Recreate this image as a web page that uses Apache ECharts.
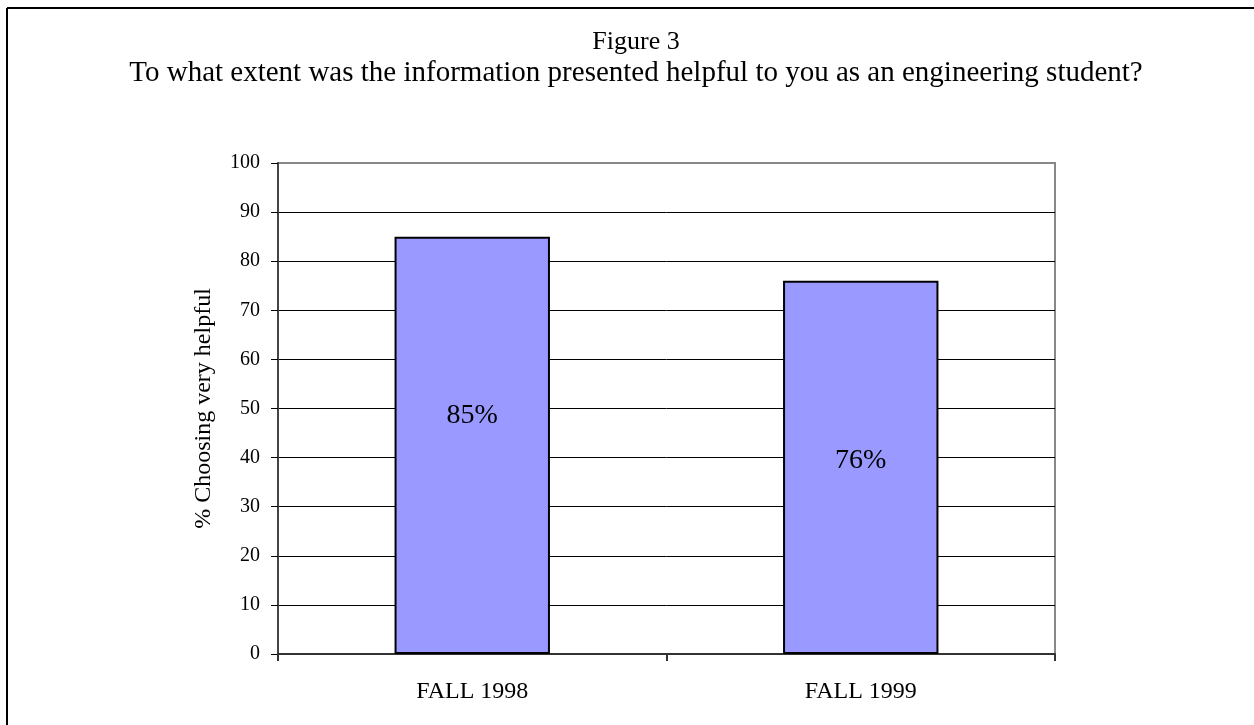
<!DOCTYPE html>
<html>
<head>
<meta charset="utf-8">
<script src="https://cdn.jsdelivr.net/npm/echarts@6/dist/echarts.min.js"></script>
<style>
html, body { margin: 0; padding: 0; background: #fff; }
#container { width: 1254px; height: 725px; }
</style>
</head>
<body>
<div id="container"></div>
<script>
var categories = ['FALL 1998', 'FALL 1999'];
var values = [85, 76];
var labelShift = [-30, -7];
var yTicks = { min: 0, max: 100, step: 10 };

var serif = '"Liberation Serif", "DejaVu Serif", serif';

var barData = [];
for (var i = 0; i < values.length; i++) {
    barData.push({
        value: values[i],
        label: { offset: [0, labelShift[i]] }
    });
}

var myChart = echarts.init(document.getElementById('container'));
var option = {
    backgroundColor: '#fff',
    animation: false,
    title: {
        text: 'Figure 3',
        subtext: 'To what extent was the information presented helpful to you as an engineering student?',
        left: 631,
        top: 24,
        textAlign: 'center',
        itemGap: 4,
        textStyle: { fontFamily: serif, fontSize: 26, fontWeight: 'normal', color: '#000' },
        subtextStyle: { fontFamily: serif, fontSize: 29, color: '#000' }
    },
    graphic: [
        { type: 'line', shape: { x1: 7, y1: 8, x2: 1254, y2: 8 }, style: { stroke: '#000', lineWidth: 2 } },
        { type: 'line', shape: { x1: 7, y1: 8, x2: 7, y2: 725 }, style: { stroke: '#000', lineWidth: 2 } }
    ],
    grid: {
        left: 278,
        top: 163,
        width: 777,
        height: 491,
        show: true,
        borderColor: '#888',
        borderWidth: 2,
        backgroundColor: 'transparent'
    },
    xAxis: {
        type: 'category',
        data: categories,
        axisLine: { lineStyle: { color: '#333', width: 2 } },
        axisTick: { show: true, alignWithLabel: false, length: 7, lineStyle: { color: '#333', width: 2 } },
        axisLabel: { fontFamily: serif, fontSize: 24, color: '#000', margin: 26 }
    },
    yAxis: {
        type: 'value',
        min: yTicks.min,
        max: yTicks.max,
        interval: yTicks.step,
        name: '% Choosing very helpful',
        nameLocation: 'middle',
        nameGap: 62,
        nameTextStyle: { fontFamily: serif, fontSize: 24, color: '#000' },
        axisLine: { show: true, lineStyle: { color: '#444', width: 2 } },
        axisTick: { show: true, length: 7, lineStyle: { color: '#000', width: 1 } },
        axisLabel: { fontFamily: serif, fontSize: 20, color: '#000', margin: 18 },
        splitLine: { show: true, showMaxLine: false, lineStyle: { color: '#000', width: 1 } }
    },
    series: [
        {
            type: 'bar',
            data: barData,
            barWidth: '40%',
            itemStyle: { color: '#9999FF', borderColor: '#000', borderWidth: 2 },
            label: {
                show: true,
                position: 'inside',
                formatter: '{c}%',
                fontFamily: serif,
                fontSize: 28,
                color: '#000'
            }
        }
    ]
};
myChart.setOption(option);
</script>
</body>
</html>
